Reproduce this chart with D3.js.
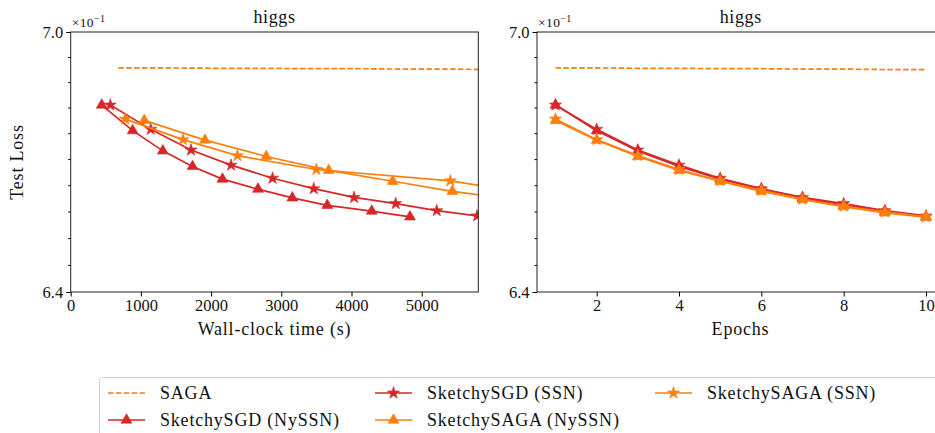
<!DOCTYPE html>
<html><head><meta charset="utf-8">
<script src="https://cdn.jsdelivr.net/npm/d3@7"></script>
<style>body{margin:0;background:#fff}svg{display:block}text{font-family:"Liberation Serif","DejaVu Serif",serif;fill:#111}</style>
</head><body>
<svg id="c" width="935" height="433"></svg>
<script>
// ---- data ----
const epochs = [1,2,3,4,5,6,7,8,9,10];
const sagaTime = [678,1350,2030,2710,3390,4070,4750,5430,6110,6790];
const sagaLoss = [0.6914,0.6914,0.6913,0.6913,0.6912,0.6912,0.6911,0.6911,0.6910,0.6910];
const sgdNyTime = [442,883,1312,1735,2162,2668,3157,3655,4288,4833];
const sgdNyLoss = [0.6826,0.6766,0.6719,0.6683,0.6654,0.6631,0.6611,0.6594,0.6581,0.6568];
const sgdSsnTime = [564,1140,1714,2284,2875,3462,4036,4630,5214,5788];
const sgdSsnLoss = [0.6826,0.6769,0.6721,0.6686,0.6656,0.6632,0.6612,0.6598,0.6582,0.6570];
const sagaNyTime = [1048,1913,2786,3675,4587,5436,6300,7170,8040,8900];
const sagaNyLoss = [0.6790,0.6744,0.6706,0.6674,0.6649,0.6626,0.6607,0.6591,0.6577,0.6567];
const sagaSsnTime = [776,1599,2374,3499,5408,6260,7100,7950,8800,9650];
const sagaSsnLoss = [0.6793,0.6745,0.6708,0.6676,0.6650,0.6628,0.6608,0.6592,0.6579,0.6568];
const xTicksTime = [0,1000,2000,3000,4000,5000];
const xTicksEpoch = [2,4,6,8,10];
const yMajor = [0.64,0.70];
const yMajorLabels = ["6.4","7.0"];
const yMinor = [0.646,0.652,0.658,0.664,0.670,0.676,0.682,0.688,0.694];
const title = "higgs";

const series = [
  {name:"SAGA", color:"#ff7f0e", dash:true, marker:null, time:sagaTime, loss:sagaLoss},
  {name:"SketchySGD (NySSN)", color:"#d62728", marker:"tri", time:sgdNyTime, loss:sgdNyLoss},
  {name:"SketchySGD (SSN)", color:"#d62728", marker:"star", time:sgdSsnTime, loss:sgdSsnLoss},
  {name:"SketchySAGA (NySSN)", color:"#ff7f0e", marker:"tri", time:sagaNyTime, loss:sagaNyLoss},
  {name:"SketchySAGA (SSN)", color:"#ff7f0e", marker:"star", time:sagaSsnTime, loss:sagaSsnLoss}
];

const svg = d3.select("#c");
const yTop = 32, yBot = 292;
const y = d3.scaleLog().domain([0.64,0.70]).range([yBot, yTop]);

const panels = [
  {id:"p0", x: d3.scaleLinear().domain([0,5806]).range([70.7,478.3]), ticks:xTicksTime, xkey:"time", xlabel:"Wall-clock time (s)", ylabel:true},
  {id:"p1", x: d3.scaleLinear().domain([0.55,10.45]).range([537,944.5]), ticks:xTicksEpoch, xkey:"epoch", xlabel:"Epochs", ylabel:false}
];

function sym(m){
  return m==="tri" ? d3.symbol(d3.symbolTriangle, 52) : d3.symbol(d3.symbolStar, 46);
}

const defs = svg.append("defs");
panels.forEach(p => {
  const [x0,x1] = p.x.range();
  defs.append("clipPath").attr("id","clip"+p.id).append("rect")
    .attr("x",x0).attr("y",yTop-6).attr("width",x1-x0).attr("height",yBot-yTop+12);
  const g = svg.append("g");
  const plot = g.append("g").attr("clip-path","url(#clip"+p.id+")");
  series.forEach(s => {
    const xs = p.xkey==="time" ? s.time : epochs;
    const pts = xs.map((v,i)=>[p.x(v), y(s.loss[i])]);
    plot.append("path").attr("d", d3.line()(pts))
      .attr("fill","none").attr("stroke",s.color).attr("stroke-width",1.7)
      .attr("stroke-dasharray", s.dash ? "5.5,2.4" : null);
    if (s.marker) {
      plot.selectAll(null).data(pts).enter().append("path")
        .attr("d", sym(s.marker)())
        .attr("transform", d=>`translate(${d[0]},${d[1]})`)
        .attr("fill", s.color).attr("stroke", s.color).attr("stroke-width",0.6);
    }
  });
  g.append("rect").attr("x",x0).attr("y",yTop).attr("width",x1-x0).attr("height",yBot-yTop)
    .attr("fill","none").attr("stroke","#222").attr("stroke-width",1);
  const xa = d3.axisBottom(p.x).tickValues(p.ticks).tickSize(4.5).tickPadding(3).tickFormat(d3.format("d"));
  const xg = g.append("g").attr("transform",`translate(0,${yBot})`).call(xa);
  xg.select(".domain").remove();
  xg.selectAll("text").style("font-size","16.5px").attr("fill","#111");
  const ya = d3.axisLeft(y).tickValues(yMajor).tickSize(4.5).tickPadding(3)
    .tickFormat((d,i)=>yMajorLabels[i]);
  const yg = g.append("g").attr("transform",`translate(${x0},0)`).call(ya);
  yg.select(".domain").remove();
  yg.selectAll("text").style("font-size","16.5px").attr("fill","#111");
  const ym = d3.axisLeft(y).tickValues(yMinor).tickSize(2.5).tickFormat("");
  const ymg = g.append("g").attr("transform",`translate(${x0},0)`).call(ym);
  ymg.select(".domain").remove();
  const ot = g.append("text").attr("x",x0+1).attr("y",yTop-5).style("font-size","13.5px").style("letter-spacing","0.4px");
  ot.append("tspan").text("×10");
  ot.append("tspan").attr("dy",-5).style("font-size","10px").text("−1");
  g.append("text").attr("x",(x0+x1)/2).attr("y",yTop-9).attr("text-anchor","middle")
    .style("font-size","18px").style("letter-spacing","0.6px").text(title);
  g.append("text").attr("x", p.id==="p0" ? 274.5 : 740.5)
    .attr("y",335).attr("text-anchor","middle").style("font-size","18px").style("letter-spacing","0.8px").text(p.xlabel);
  if (p.ylabel) {
    g.append("text").attr("transform",`translate(23,${(yTop+yBot)/2}) rotate(-90)`)
      .attr("text-anchor","middle").style("font-size","18px").style("letter-spacing","0.8px").text("Test Loss");
  }
});

// legend
const lg = svg.append("g");
lg.append("rect").attr("x",99.5).attr("y",377.5).attr("width",845).attr("height",70).attr("rx",3)
  .attr("fill","#fff").attr("fill-opacity",0.8).attr("stroke","#d0d0d0").attr("stroke-width",1);
const cols = [108,375,655];
const rows = [393,420];
series.forEach((s,k) => {
  const c = Math.floor(k/2), r = k%2;
  const lx = cols[c], ly = rows[r];
  lg.append("line").attr("x1",lx).attr("x2",lx+37).attr("y1",ly).attr("y2",ly)
    .attr("stroke",s.color).attr("stroke-width",1.7).attr("stroke-dasharray", s.dash ? "5.5,2.4" : null);
  if (s.marker) {
    lg.append("path").attr("d", sym(s.marker)()).attr("transform",`translate(${lx+18.5},${ly})`)
      .attr("fill",s.color).attr("stroke",s.color).attr("stroke-width",0.6);
  }
  lg.append("text").attr("x",lx+52).attr("y",ly+6).style("font-size","18px").style("letter-spacing","0.8px").text(s.name);
});
</script>
</body></html>
